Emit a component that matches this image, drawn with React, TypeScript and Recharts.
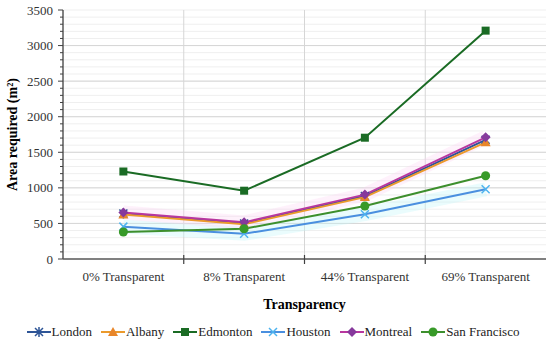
import {
  CartesianGrid,
  Label,
  Legend,
  Line,
  LineChart,
  ReferenceLine,
  XAxis,
  YAxis,
} from "recharts";

const categories = [
  "0% Transparent",
  "8% Transparent",
  "44% Transparent",
  "69% Transparent",
];
const london = [640, 500, 885, 1675];
const albany = [625, 490, 870, 1640];
const edmonton = [1230, 960, 1705, 3210];
const houston = [455, 355, 630, 980];
const montreal = [655, 515, 905, 1710];
const sanFrancisco = [380, 425, 745, 1170];

const yTicks = Array.from({ length: 36 }, (_, i) => i * 100);
const yMajor = [500, 1000, 1500, 2000, 2500, 3000];

const FONT = "Liberation Serif, DejaVu Serif, serif";

type Shape = "star" | "triangle" | "square" | "x" | "diamond" | "circle";

const series: {
  key: string;
  name: string;
  line: string;
  marker: string;
  shape: Shape;
}[] = [
  { key: "london", name: "London", line: "#2e5597", marker: "#2e5597", shape: "star" },
  { key: "albany", name: "Albany", line: "#eb9a2c", marker: "#e8862a", shape: "triangle" },
  { key: "edmonton", name: "Edmonton", line: "#1a6b24", marker: "#1a6b24", shape: "square" },
  { key: "houston", name: "Houston", line: "#4a8fdf", marker: "#4db3ef", shape: "x" },
  { key: "montreal", name: "Montreal", line: "#b8379f", marker: "#86399c", shape: "diamond" },
  { key: "sanFrancisco", name: "San Francisco", line: "#3d8f2d", marker: "#379a28", shape: "circle" },
];

const data = categories.map((name, i) => ({
  name,
  pos: i + 0.5,
  london: london[i],
  albany: albany[i],
  edmonton: edmonton[i],
  houston: houston[i],
  montreal: montreal[i],
  sanFrancisco: sanFrancisco[i],
}));

function Marker({
  shape,
  cx,
  cy,
  color,
}: {
  shape: Shape;
  cx: number;
  cy: number;
  color: string;
}) {
  switch (shape) {
    case "square":
      return <rect x={cx - 4} y={cy - 4} width={8} height={8} fill={color} />;
    case "circle":
      return <circle cx={cx} cy={cy} r={4.5} fill={color} />;
    case "diamond":
      return (
        <path
          d={`M${cx},${cy - 5}L${cx + 5},${cy}L${cx},${cy + 5}L${cx - 5},${cy}Z`}
          fill={color}
        />
      );
    case "triangle":
      return (
        <path
          d={`M${cx},${cy - 5}L${cx + 5},${cy + 4}L${cx - 5},${cy + 4}Z`}
          fill={color}
        />
      );
    case "x":
      return (
        <path
          d={`M${cx - 4},${cy - 4}L${cx + 4},${cy + 4}M${cx - 4},${cy + 4}L${cx + 4},${cy - 4}`}
          stroke={color}
          strokeWidth={1.5}
        />
      );
    default:
      return (
        <path
          d={`M${cx - 4},${cy - 4}L${cx + 4},${cy + 4}M${cx - 4},${cy + 4}L${cx + 4},${cy - 4}M${cx},${cy - 5}L${cx},${cy + 5}`}
          stroke={color}
          strokeWidth={1.5}
        />
      );
  }
}

function XTick({ x, y, payload }: { x: number; y: number; payload: { value: number } }) {
  const v = payload.value;
  if (Number.isInteger(v)) {
    if (v === 0 || v === 4) return null;
    return <line x1={x} x2={x} y1={y - 4} y2={y + 5} stroke="#404040" strokeWidth={1.2} />;
  }
  return (
    <text x={x} y={y + 22} textAnchor="middle" style={{ fontFamily: FONT }} fontSize={13} fill="#333">
      {categories[Math.floor(v)]}
    </text>
  );
}

function YTick({ x, y, payload }: { x: number; y: number; payload: { value: number } }) {
  const v = payload.value;
  const major = v % 500 === 0;
  return (
    <g>
      <line x1={x - (major ? 5 : 3)} x2={x} y1={y} y2={y} stroke="#404040" strokeWidth={1} />
      {major && (
        <text x={x - 10} y={y + 4.5} textAnchor="end" style={{ fontFamily: FONT }} fontSize={13} fill="#333">
          {v}
        </text>
      )}
    </g>
  );
}

function LegendContent() {
  return (
    <div
      style={{
        display: "flex",
        justifyContent: "center",
        gap: 9,
        paddingTop: 3,
        fontFamily: FONT,
        fontSize: 13,
        color: "#222",
        lineHeight: "16px",
      }}
    >
      {series.map((s) => (
        <span key={s.key} style={{ display: "inline-flex", alignItems: "center" }}>
          <svg width={24} height={10} style={{ marginRight: 1 }}>
            <line x1={0} y1={5} x2={24} y2={5} stroke={s.line} strokeWidth={2} />
            <Marker shape={s.shape} cx={12} cy={5} color={s.marker} />
          </svg>
          {s.name}
        </span>
      ))}
    </div>
  );
}

export default function App() {
  return (
    <div style={{ position: "absolute", left: 0, top: 0, background: "#fff" }}>
      <LineChart
        width={550}
        height={339}
        data={data}
        margin={{ top: 10, right: 4, left: 0, bottom: 0 }}
      >
        <CartesianGrid vertical={false} stroke="#efefef" />
        {yMajor.map((v) => (
          <ReferenceLine key={v} y={v} stroke="#d6d6d6" />
        ))}
        {[1, 2, 3].map((v) => (
          <ReferenceLine key={v} x={v} stroke="#d6d6d6" />
        ))}
        <XAxis
          dataKey="pos"
          type="number"
          domain={[0, 4]}
          ticks={[0, 0.5, 1, 1.5, 2, 2.5, 3, 3.5, 4]}
          interval={0}
          tickSize={0}
          tickMargin={0}
          tickLine={false}
          tick={XTick}
          height={62}
          axisLine={{ stroke: "#595959", strokeWidth: 1.5 }}
        >
          <Label
            content={(p: any) => (
              <text
                x={p.viewBox.x + p.viewBox.width / 2}
                y={p.viewBox.y + 50}
                textAnchor="middle"
                style={{ fontFamily: FONT }}
                fontSize={14}
                fontWeight="bold"
                fill="#000"
              >
                Transparency
              </text>
            )}
          />
        </XAxis>
        <XAxis
          xAxisId="top"
          orientation="top"
          type="number"
          domain={[0, 4]}
          height={0}
          tick={false}
          tickLine={false}
          axisLine={{ stroke: "#6b6b6b", strokeWidth: 1.5 }}
        />
        <YAxis
          type="number"
          domain={[0, 3500]}
          ticks={yTicks}
          interval={0}
          tickSize={0}
          tickMargin={0}
          tickLine={false}
          tick={YTick}
          width={63}
          axisLine={{ stroke: "#595959", strokeWidth: 1.5 }}
        >
          <Label
            content={(p: any) => {
              const cx = 17;
              const cy = p.viewBox.y + p.viewBox.height / 2;
              return (
                <text
                  x={cx}
                  y={cy}
                  transform={`rotate(-90, ${cx}, ${cy})`}
                  textAnchor="middle"
                  style={{ fontFamily: FONT }}
                  fontSize={14}
                  fontWeight="bold"
                  fill="#000"
                >
                  Area required (m²)
                </text>
              );
            }}
          />
        </YAxis>
        <YAxis
          yAxisId="right"
          orientation="right"
          width={0}
          tick={false}
          tickLine={false}
          axisLine={{ stroke: "#6b6b6b", strokeWidth: 1.5 }}
        />
        <Legend verticalAlign="bottom" height={18} content={<LegendContent />} />
        <Line
          dataKey="houston"
          stroke="#c4f6f8"
          strokeOpacity={0.35}
          strokeWidth={14}
          dot={false}
          activeDot={false}
          legendType="none"
          isAnimationActive={false}
        />
        <Line
          dataKey="montreal"
          stroke="#fbd2f2"
          strokeOpacity={0.3}
          strokeWidth={14}
          dot={false}
          activeDot={false}
          legendType="none"
          isAnimationActive={false}
        />
        {series.map((s) => (
          <Line
            key={s.key}
            dataKey={s.key}
            name={s.name}
            stroke={s.line}
            strokeWidth={2}
            isAnimationActive={false}
            dot={(p: any) => (
              <Marker
                key={`${s.key}-${p.index}`}
                shape={s.shape}
                cx={p.cx}
                cy={p.cy}
                color={s.marker}
              />
            )}
          />
        ))}
      </LineChart>
    </div>
  );
}
